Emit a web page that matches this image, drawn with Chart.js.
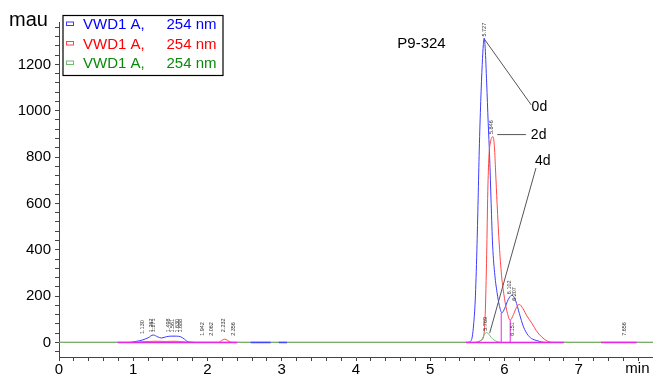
<!DOCTYPE html>
<html>
<head>
<meta charset="utf-8">
<script src="https://cdn.jsdelivr.net/npm/chart.js@4.4.0/dist/chart.umd.min.js"></script>
<style>
  body { margin: 0; background: #fff; }
  canvas { display: block; }
</style>
</head>
<body>
<canvas id="chart" width="653" height="374"></canvas>
<script>
// retention time (min) / absorbance (mau)
const time0d = [0, 0.95, 1.0, 1.05, 1.12, 1.2, 1.268, 1.33, 1.38, 1.45, 1.52, 1.58, 1.64, 1.69, 1.725, 1.78, 1.85,
  5.5, 5.54, 5.565, 5.585, 5.606, 5.628, 5.645, 5.66, 5.68, 5.7, 5.715, 5.727, 5.74, 5.76, 5.78, 5.8, 5.82, 5.84,
  5.87, 5.9, 5.93, 5.965, 6.0, 6.05, 6.1, 6.15, 6.2, 6.256, 6.32, 6.38, 6.436, 6.5, 6.56, 8.0];
const mau0d = [0, 0, 2, 5, 10, 20, 32, 24, 19, 25, 27, 27, 24, 14, 4, 1, 0,
  0, 4, 23, 80, 183, 398, 620, 830, 1040, 1200, 1285, 1314, 1270, 1120, 950, 800, 600, 420,
  290, 215, 160, 128, 145, 185, 204, 180, 125, 67, 30, 14, 8, 2, 0, 0];

const time2d = [0, 1.0, 1.1, 1.2, 1.3, 1.45, 1.55, 1.65, 1.75, 2.15, 2.19, 2.232, 2.27, 2.31, 2.35,
  5.6, 5.68, 5.717, 5.74, 5.76, 5.775, 5.79, 5.815, 5.846, 5.865, 5.88, 5.9, 5.93, 5.96, 6.0, 6.04, 6.077,
  6.12, 6.16, 6.2, 6.25, 6.3, 6.37, 6.43, 6.5, 6.57, 6.65, 8.0];
const mau2d = [0, 0, 2, 4, 5, 4, 5, 3, 0, 0, 8, 14, 9, 1, 0,
  0, 8, 24, 120, 380, 650, 800, 870, 888, 840, 740, 600, 420, 290, 190, 125, 96,
  120, 150, 164, 145, 115, 82, 50, 24, 7, 0, 0];

const time4d = [0, 1.0, 1.2, 1.5, 1.7, 1.8, 5.6, 5.66, 5.7, 5.73, 5.758, 5.79, 5.82, 5.86, 5.9, 5.95, 8.0];
const mau4d = [0, 0, 2, 3, 1, 0, 0, 3, 16, 35, 43, 35, 22, 10, 4, 0, 0];

// integration baselines and drop lines
const baseStart = [0.79, 5.48, 7.3];
const baseEnd = [2.4, 6.8, 7.78];
const blueBaseStart = [2.58, 2.96];
const blueBaseEnd = [2.85, 3.07];
const dropTime = [5.956, 6.077];
const dropMau = [128, 96];

// retention-time labels
const peakName = ['1.130', '1.262', '1.271', '1.498', '1.561', '1.630', '1.688', '1.942', '2.062', '2.232', '2.356',
  '5.727', '5.846', '5.769', '6.102', '6.207', '6.151', '7.656'];
const peakTime = [1.12, 1.245, 1.276, 1.47, 1.53, 1.6, 1.635, 1.93, 2.05, 2.22, 2.345,
  5.727, 5.83, 5.74, 6.07, 6.135, 6.11, 7.62];
const peakBase = [32, 40, 40, 40, 38, 38, 38, 24, 24, 40, 24,
  1316, 895, 46, 204, 175, 24, 24];

// callouts
const calloutText = ['0d', '2d', '4d'];
const calloutFromT = [5.727, 5.903, 5.8];
const calloutFromV = [1310, 897, 40];
const calloutToT = [6.36, 6.288, 6.424];
const calloutToV = [1025, 897, 753];
const calloutLabelT = [6.365, 6.355, 6.41];
const calloutLabelV = [1016, 895, 784];

const legendText = ['VWD1 A,', 'VWD1 A,', 'VWD1 A,'];
const legendUnit = ['254 nm', '254 nm', '254 nm'];
const legendColor = ['#0000ff', '#ff0000', '#0a8a0a'];

const FONT = 'Liberation Sans, Arial, Helvetica, sans-serif';

function pts(xs, ys) {
  return xs.map((x, i) => ({ x: x, y: ys[i] }));
}
function segs(starts, ends) {
  const out = [];
  starts.forEach((s, i) => { out.push({ x: s, y: 0 }, { x: ends[i], y: 0 }, { x: ends[i], y: null }); });
  return out;
}
function drops(ts, hs) {
  const out = [];
  ts.forEach((t, i) => { out.push({ x: t, y: 0 }, { x: t, y: hs[i] }, { x: t, y: null }); });
  return out;
}

const overlay = {
  id: 'overlay',
  afterDraw(chart) {
    const ctx = chart.ctx;
    const x = chart.scales.x, y = chart.scales.y;
    ctx.save();

    // y unit
    ctx.fillStyle = '#000';
    ctx.font = '20px ' + FONT;
    ctx.textAlign = 'left';
    ctx.textBaseline = 'middle';
    ctx.fillText('mau', 9, 20);

    // x unit
    ctx.font = '15px ' + FONT;
    ctx.textAlign = 'center';
    ctx.textBaseline = 'top';
    ctx.fillText('min', x.getPixelForValue(7.79), x.top + 4);

    // sample name
    ctx.textAlign = 'left';
    ctx.textBaseline = 'middle';
    ctx.fillText('P9-324', x.getPixelForValue(4.556), y.getPixelForValue(1288));

    // callouts
    ctx.strokeStyle = '#555';
    ctx.lineWidth = 1;
    ctx.font = '14px ' + FONT;
    calloutText.forEach((t, i) => {
      ctx.beginPath();
      ctx.moveTo(x.getPixelForValue(calloutFromT[i]), y.getPixelForValue(calloutFromV[i]));
      ctx.lineTo(x.getPixelForValue(calloutToT[i]), y.getPixelForValue(calloutToV[i]));
      ctx.stroke();
      ctx.fillText(t, x.getPixelForValue(calloutLabelT[i]), y.getPixelForValue(calloutLabelV[i]));
    });

    // peak labels
    ctx.font = '5.5px ' + FONT;
    ctx.fillStyle = '#333';
    ctx.textBaseline = 'middle';
    ctx.textAlign = 'left';
    peakName.forEach((n, i) => {
      ctx.save();
      ctx.translate(x.getPixelForValue(peakTime[i]), y.getPixelForValue(peakBase[i]) - 1);
      ctx.rotate(-Math.PI / 2);
      ctx.fillText(n, 0, 0);
      ctx.restore();
    });

    // legend box
    ctx.fillStyle = '#fff';
    ctx.fillRect(63, 15.5, 160, 60);
    ctx.strokeStyle = '#000';
    ctx.lineWidth = 1.2;
    ctx.strokeRect(63, 15.5, 160, 60);
    ctx.font = '15px ' + FONT;
    legendText.forEach((t, i) => {
      const cy = 25 + i * 19.5;
      ctx.strokeStyle = chart.data.datasets[i].borderColor;
      ctx.lineWidth = 1;
      ctx.strokeRect(66.5, cy - 3, 7, 3.5);
      ctx.fillStyle = legendColor[i];
      ctx.textAlign = 'left';
      ctx.fillText(t, 83, cy);
      ctx.textAlign = 'right';
      ctx.fillText(legendUnit[i], 216.5, cy);
    });
    ctx.restore();
  }
};

const traceStyle = { showLine: true, pointRadius: 0, borderWidth: 1, fill: false, cubicInterpolationMode: 'monotone' };

new Chart(document.getElementById('chart'), {
  type: 'scatter',
  data: {
    datasets: [
      { label: 'VWD1 A, 254 nm', data: pts(time0d, mau0d), borderColor: 'rgb(60,60,255)', order: 3, ...traceStyle },
      { label: 'VWD1 A, 254 nm', data: pts(time2d, mau2d), borderColor: 'rgb(255,70,70)', order: 2, ...traceStyle },
      { label: 'VWD1 A, 254 nm', data: pts(time4d, mau4d), borderColor: 'rgb(110,190,110)', order: 1, ...traceStyle },
      { label: 'baseline', data: segs(baseStart, baseEnd), borderColor: 'rgb(230,40,230)', showLine: true, pointRadius: 0, borderWidth: 1.5, spanGaps: false, order: 0 },
      { label: 'baseline 0d', data: segs(blueBaseStart, blueBaseEnd), borderColor: 'rgb(70,70,255)', showLine: true, pointRadius: 0, borderWidth: 1.5, spanGaps: false, order: 0 },
      { label: 'drops', data: drops(dropTime, dropMau), borderColor: 'rgb(230,40,230)', showLine: true, pointRadius: 0, borderWidth: 1, spanGaps: false, order: 0 }
    ]
  },
  options: {
    responsive: false,
    animation: false,
    layout: { padding: { top: 22, right: 0, left: 0, bottom: 0 } },
    plugins: { legend: { display: false }, tooltip: { enabled: false } },
    scales: {
      x: {
        type: 'linear',
        min: 0,
        max: 8.0,
        afterFit: s => { s.height = 17; },
        border: { display: true, color: '#444', width: 1 },
        grid: { display: true, drawOnChartArea: false, drawTicks: true, tickLength: 4, color: '#444' },
        ticks: {
          stepSize: 0.2,
          includeBounds: false,
          autoSkip: false,
          maxRotation: 0,
          padding: 0,
          color: '#000',
          font: { family: FONT, size: 15 },
          callback: v => (Math.abs(v - Math.round(v)) < 1e-6 && v < 7.5) ? String(Math.round(v)) : ''
        }
      },
      y: {
        type: 'linear',
        min: -63,
        max: 1383,
        afterFit: s => { s.width = 59; },
        border: { display: true, color: '#444', width: 1 },
        grid: { display: true, drawOnChartArea: false, drawTicks: true, tickLength: 4, color: '#444' },
        ticks: {
          stepSize: 40,
          includeBounds: false,
          autoSkip: false,
          padding: 4,
          color: '#000',
          font: { family: FONT, size: 15 },
          callback: v => (v >= 0 && v % 200 === 0) ? String(v) : ''
        }
      }
    }
  },
  plugins: [overlay]
});
</script>
</body>
</html>
